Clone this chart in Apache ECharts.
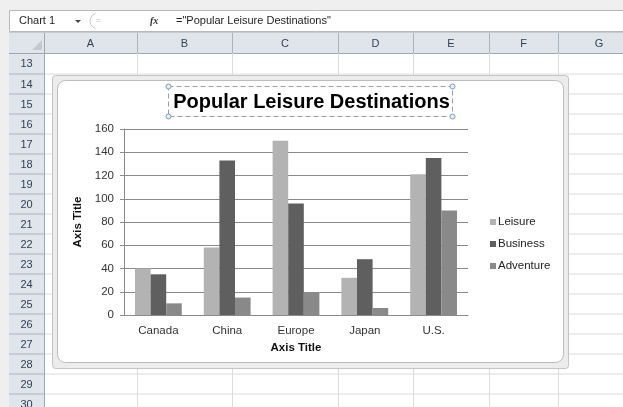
<!DOCTYPE html>
<html>
<head>
<meta charset="utf-8">
<script src="https://cdn.jsdelivr.net/npm/echarts@6/dist/echarts.min.js"></script>
<style>
  html, body { margin: 0; padding: 0; background: #fff; }
  #chart { width: 623px; height: 407px; }
</style>
</head>
<body>
<div id="chart"></div>
<script>
  // chart data
  const categories = ['Canada', 'China', 'Europe', 'Japan', 'U.S.'];
  const leisure = [40, 58, 150, 32, 121];
  const business = [35, 133, 96, 48, 135];
  const adventure = [10, 15, 19, 6, 90];
  const seriesNames = ['Leisure', 'Business', 'Adventure'];

  // spreadsheet labels around the chart
  const rowNumbers = [13, 14, 15, 16, 17, 18, 19, 20, 21, 22, 23, 24, 25, 26, 27, 28, 29, 30];
  const colLetters = ['A', 'B', 'C', 'D', 'E', 'F', 'G'];

  const font = 'Liberation Sans, Arial, sans-serif';

  // sheet layout (pixels)
  const colEdges = [44, 137, 232, 338, 413, 489, 558, 640];
  const headTop = 33, headBottom = 53;
  function rowTop(i) { return i === 0 ? headBottom : 73.5 + (i - 1) * 20; }
  function rowBottom(i) { return 73.5 + i * 20; }

  let sheet = [];
  sheet.push({ type: 'rect', z: -30, shape: { x: 0, y: 0, width: 623, height: 407 }, style: { fill: '#ffffff' } });
  sheet.push({ type: 'rect', z: -29, shape: { x: 0, y: 0, width: 623, height: 10 }, style: { fill: '#efefef' } });
  sheet.push({ type: 'rect', z: -29, shape: { x: 0, y: 0, width: 9, height: 407 }, style: { fill: '#efefef' } });

  // formula bar
  sheet.push({ type: 'rect', z: -28, shape: { x: 9.5, y: 10.5, width: 620, height: 21 }, style: { fill: '#ffffff', stroke: '#b9b9b9', lineWidth: 1 } });
  sheet.push({ type: 'text', z: -27, style: { x: 19, y: 21, text: 'Chart 1', font: '11px ' + font, fill: '#1e1e1e', verticalAlign: 'middle' } });
  sheet.push({ type: 'polygon', z: -27, shape: { points: [[75, 20], [81, 20], [78, 23]] }, style: { fill: '#444' } });
  sheet.push({ type: 'arc', z: -27, shape: { cx: 98, cy: 21, r: 8, startAngle: Math.PI * 0.6, endAngle: Math.PI * 1.4 }, style: { stroke: '#c8c8c8', fill: null, lineWidth: 1 } });
  sheet.push({ type: 'text', z: -27, style: { x: 96, y: 21, text: '=', font: '9px ' + font, fill: '#c0c0c0', verticalAlign: 'middle' } });
  sheet.push({ type: 'text', z: -27, style: { x: 150, y: 21, text: 'fx', font: 'italic bold 10px serif', fill: '#333', verticalAlign: 'middle' } });
  sheet.push({ type: 'text', z: -27, style: { x: 176, y: 21, text: '="Popular Leisure Destinations"', font: '11px ' + font, fill: '#1e1e1e', verticalAlign: 'middle' } });

  // column header row + row header column
  sheet.push({ type: 'rect', z: -28, shape: { x: 9, y: headTop, width: 614, height: headBottom - headTop }, style: { fill: '#e0e5eb' } });
  sheet.push({ type: 'rect', z: -28, shape: { x: 9, y: headBottom, width: 35, height: 360 }, style: { fill: '#e0e5eb' } });
  sheet.push({ type: 'line', z: -27, shape: { x1: 9, y1: headTop - 0.5, x2: 623, y2: headTop - 0.5 }, style: { stroke: '#c5cbd3' } });
  sheet.push({ type: 'line', z: -27, shape: { x1: 9, y1: headBottom + 0.5, x2: 623, y2: headBottom + 0.5 }, style: { stroke: '#9ea8b4' } });
  sheet.push({ type: 'line', z: -27, shape: { x1: 44.5, y1: headTop, x2: 44.5, y2: 407 }, style: { stroke: '#9ea8b4' } });
  sheet.push({ type: 'polygon', z: -27, shape: { points: [[42, 40], [42, 50], [32, 50]] }, style: { fill: '#c3c9d1' } });

  colLetters.forEach(function (c, i) {
    let x0 = colEdges[i], x1 = colEdges[i + 1];
    sheet.push({ type: 'text', z: -26, style: { x: (x0 + x1) / 2, y: 44, text: c, font: '11px ' + font, fill: '#2f3f55', align: 'center', verticalAlign: 'middle' } });
    if (i > 0) {
      sheet.push({ type: 'line', z: -27, shape: { x1: x0 + 0.5, y1: headTop, x2: x0 + 0.5, y2: headBottom }, style: { stroke: '#a9b3bf' } });
      sheet.push({ type: 'line', z: -27, shape: { x1: x0 + 0.5, y1: headBottom, x2: x0 + 0.5, y2: 407 }, style: { stroke: '#dadcdd' } });
    }
  });

  rowNumbers.forEach(function (r, i) {
    let y0 = rowTop(i), y1 = rowBottom(i);
    sheet.push({ type: 'text', z: -26, style: { x: 26.5, y: (y0 + y1) / 2 + 1, text: String(r), font: '11px ' + font, fill: '#2f3f55', align: 'center', verticalAlign: 'middle' } });
    sheet.push({ type: 'line', z: -27, shape: { x1: 9, y1: y1 + 0.5, x2: 44, y2: y1 + 0.5 }, style: { stroke: '#a9b3bf' } });
    sheet.push({ type: 'line', z: -27, shape: { x1: 45, y1: y1 + 0.5, x2: 623, y2: y1 + 0.5 }, style: { stroke: '#dadcdd' } });
  });

  // chart frame
  sheet.push({ type: 'rect', z: -20, shape: { x: 52.5, y: 75.5, width: 516, height: 293, r: 3 }, style: { fill: '#ececec', stroke: '#c4c4c4', lineWidth: 1 } });
  sheet.push({ type: 'rect', z: -19, shape: { x: 57.5, y: 80.5, width: 506, height: 282, r: 8 }, style: { fill: '#ffffff', stroke: '#bdbdbd', lineWidth: 1 } });

  // selected title box
  sheet.push({ type: 'rect', z: 5, shape: { x: 168.5, y: 86.5, width: 284, height: 30 }, style: { fill: null, stroke: '#9c9c9c', lineWidth: 1, lineDash: [5, 3] } });
  [[168.5, 86.5], [452.5, 86.5], [168.5, 116.5], [452.5, 116.5]].forEach(function (p) {
    sheet.push({ type: 'circle', z: 6, shape: { cx: p[0], cy: p[1], r: 2.5 }, style: { fill: '#e6eef8', stroke: '#7c9cc4', lineWidth: 1 } });
  });

  let chart = echarts.init(document.getElementById('chart'), null, { renderer: 'canvas' });
  chart.setOption({
    animation: false,
    backgroundColor: 'transparent',
    graphic: { elements: sheet },
    title: {
      text: 'Popular Leisure Destinations',
      left: 'center',
      top: 92,
      padding: 0,
      textStyle: { fontFamily: font, fontSize: 20, fontWeight: 'bold', color: '#000' }
    },
    legend: {
      data: seriesNames,
      orient: 'vertical',
      left: 485,
      top: 211,
      itemWidth: 6,
      itemHeight: 6,
      itemGap: 10,
      icon: 'rect',
      textStyle: { fontFamily: font, fontSize: 11.5, color: '#222', padding: [0, 0, 0, -3] }
    },
    grid: { left: 124, right: 155, top: 129, bottom: 92, containLabel: false },
    xAxis: {
      type: 'category',
      data: categories,
      name: 'Axis Title',
      nameLocation: 'middle',
      nameGap: 27,
      nameTextStyle: { fontFamily: font, fontSize: 11.5, fontWeight: 'bold', color: '#111' },
      axisLine: { lineStyle: { color: '#8a8a8a' } },
      axisTick: { show: false },
      axisLabel: { fontFamily: font, fontSize: 11.5, color: '#333', margin: 10 }
    },
    yAxis: {
      type: 'value',
      min: 0,
      max: 160,
      interval: 20,
      name: 'Axis Title',
      nameLocation: 'middle',
      nameRotate: 90,
      nameGap: 36,
      nameTextStyle: { fontFamily: font, fontSize: 11.5, fontWeight: 'bold', color: '#111' },
      axisLine: { show: true, lineStyle: { color: '#8a8a8a' } },
      axisTick: { show: true, length: 4, lineStyle: { color: '#8a8a8a' } },
      axisLabel: { fontFamily: font, fontSize: 11.5, color: '#333', margin: 10 },
      splitLine: { lineStyle: { color: '#8a8a8a' } }
    },
    series: [
      { name: 'Leisure', type: 'bar', data: leisure, barGap: '0%', barCategoryGap: '32%', itemStyle: { color: '#b3b3b3' } },
      { name: 'Business', type: 'bar', data: business, itemStyle: { color: '#5f5f5f' } },
      { name: 'Adventure', type: 'bar', data: adventure, itemStyle: { color: '#898989' } }
    ]
  });
</script>
</body>
</html>
